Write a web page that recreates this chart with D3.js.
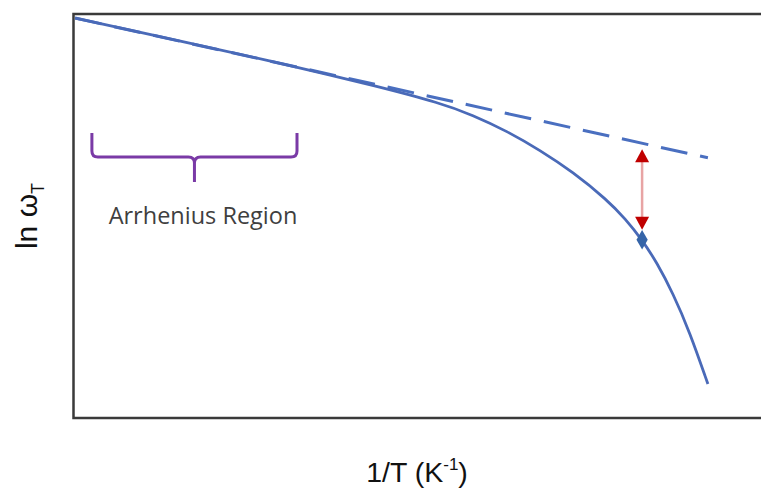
<!DOCTYPE html>
<html>
<head>
<meta charset="utf-8">
<script src="https://cdn.jsdelivr.net/npm/d3@7"></script>
<style>
  body { margin: 0; background: #fff; }
  svg { display: block; }
</style>
</head>
<body>
<div id="chart"></div>
<script>
// Chart values (arbitrary units)
var invT = [0.03, 1.53, 2.96, 4.39, 5.24, 5.71, 6.20, 6.67, 7.14, 7.63, 7.89, 8.13, 8.34, 8.57, 8.81, 9.07];
var lnOmega = [9.90, 9.33, 8.79, 8.19, 7.80, 7.50, 7.10, 6.63, 6.09, 5.40, 4.93, 4.41, 3.85, 3.09, 2.13, 0.84];
var arrheniusX = [0.03, 9.07];
var arrheniusY = [9.90, 6.44];
var markX = 8.13;
var braceRange = [0.27, 3.2];
var braceLabel = "Arrhenius Region";

var svgWidth = 761;
var svgHeight = 493;

var frame = { left: 73.5, top: 14, right: 775, bottom: 418 };

var svg = d3.select("#chart")
  .append("svg")
  .attr("width", svgWidth)
  .attr("height", svgHeight);

// scales
var xScale = d3.scaleLinear().domain([0, 10]).range([73, 773]);
var yScale = d3.scaleLinear().domain([0, 10]).range([418, 14]);

// frame
svg.append("rect")
  .attr("x", frame.left)
  .attr("y", frame.top)
  .attr("width", frame.right - frame.left)
  .attr("height", frame.bottom - frame.top)
  .attr("fill", "none")
  .attr("stroke", "#3a3a3a")
  .attr("stroke-width", 2.5);

var curveData = invT.map(function(d, i) { return { x: d, y: lnOmega[i] }; });
var lineData = arrheniusX.map(function(d, i) { return { x: d, y: arrheniusY[i] }; });

var line = d3.line()
  .x(function(d) { return xScale(d.x); })
  .y(function(d) { return yScale(d.y); });

// dashed Arrhenius extrapolation
svg.append("path")
  .datum(lineData)
  .attr("d", line)
  .attr("fill", "none")
  .attr("stroke", "#4a6fc0")
  .attr("stroke-width", 3)
  .attr("stroke-dasharray", "27,13");

// measured curve
svg.append("path")
  .datum(curveData)
  .attr("d", line.curve(d3.curveBasis))
  .attr("fill", "none")
  .attr("stroke", "#4a6ab8")
  .attr("stroke-width", 2.8);

// value of each line at the marker position
var dashedAtMark = arrheniusY[0] + (arrheniusY[1] - arrheniusY[0]) * (markX - arrheniusX[0]) / (arrheniusX[1] - arrheniusX[0]);
var curveAtMark = d3.scaleLinear().domain(invT).range(lnOmega)(markX);

var mx = xScale(markX);
var yTop = yScale(dashedAtMark) + 6;
var yBot = yScale(curveAtMark) - 10;

// red double arrow
svg.append("line")
  .attr("x1", mx).attr("x2", mx)
  .attr("y1", yTop + 10).attr("y2", yBot - 10)
  .attr("stroke", "#e8a4a4")
  .attr("stroke-width", 2.5);

svg.append("path")
  .attr("d", `M${mx},${yTop} L${mx - 7},${yTop + 13} L${mx + 7},${yTop + 13} Z`)
  .attr("fill", "#c00000");

svg.append("path")
  .attr("d", `M${mx},${yBot} L${mx - 7},${yBot - 13} L${mx + 7},${yBot - 13} Z`)
  .attr("fill", "#c00000");

// diamond marker on the curve
svg.append("path")
  .attr("d", d3.symbol().type(d3.symbolDiamond).size(110))
  .attr("transform", `translate(${mx}, ${yScale(curveAtMark)})`)
  .attr("fill", "#3564a8");

// brace
var bx0 = xScale(braceRange[0]);
var bx1 = xScale(braceRange[1]);
var bmid = (bx0 + bx1) / 2;
var bTop = 133, bBase = 157, bStem = 182, r = 6;
svg.append("path")
  .attr("d", `M${bx0},${bTop} L${bx0},${bBase - r} Q${bx0},${bBase} ${bx0 + r},${bBase}` +
             ` L${bmid - r},${bBase} Q${bmid},${bBase} ${bmid},${bBase + r} L${bmid},${bStem}` +
             ` M${bmid},${bBase + r} Q${bmid},${bBase} ${bmid + r},${bBase}` +
             ` L${bx1 - r},${bBase} Q${bx1},${bBase} ${bx1},${bBase - r} L${bx1},${bTop}`)
  .attr("fill", "none")
  .attr("stroke", "#7a3aa6")
  .attr("stroke-width", 3);

svg.append("text")
  .attr("x", 203)
  .attr("y", 224)
  .attr("text-anchor", "middle")
  .attr("font-family", "Open Sans, sans-serif")
  .attr("font-size", 23.5)
  .attr("fill", "#3f3f3f")
  .text(braceLabel);

// axis labels
var yLabel = svg.append("text")
  .attr("transform", "translate(37, 216) rotate(-90)")
  .attr("text-anchor", "middle")
  .attr("font-family", "Liberation Sans, Arial, sans-serif")
  .attr("font-size", 30)
  .attr("fill", "#111");
yLabel.append("tspan").text("ln ω");
yLabel.append("tspan").attr("font-size", 18).attr("dy", 7).text("T");

var xLabel = svg.append("text")
  .attr("x", 417)
  .attr("y", 482)
  .attr("text-anchor", "middle")
  .attr("font-family", "Liberation Sans, Arial, sans-serif")
  .attr("font-size", 28.5)
  .attr("fill", "#111");
xLabel.append("tspan").text("1/T (K");
xLabel.append("tspan").attr("font-size", 17).attr("dy", -12).text("-1");
xLabel.append("tspan").attr("dy", 12).text(")");
</script>
</body>
</html>
